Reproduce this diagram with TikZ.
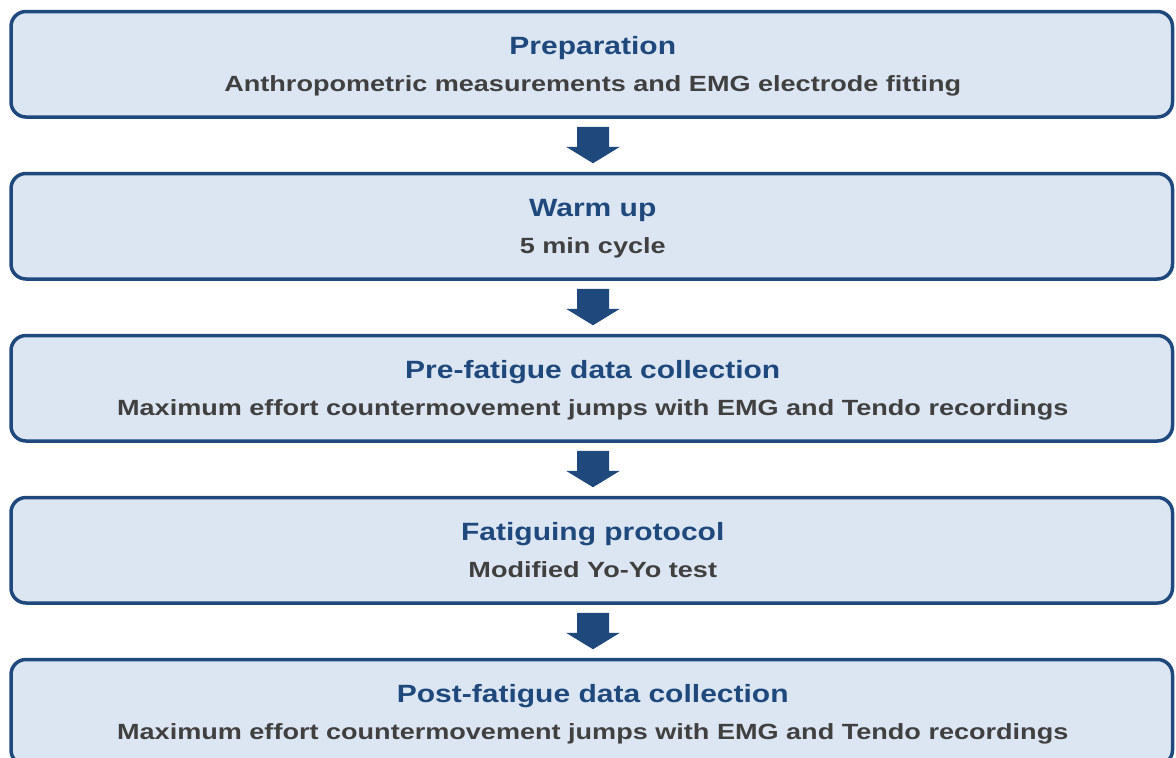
\documentclass[tikz,border=0pt]{standalone}
\usepackage{fontspec}
\setmainfont{Liberation Sans}
\usetikzlibrary{calc}
\definecolor{boxfill}{HTML}{DCE6F2}
\definecolor{boxline}{HTML}{1F497D}
\definecolor{titleblue}{HTML}{1F497D}
\definecolor{subgray}{HTML}{404040}
\definecolor{arrowblue}{HTML}{1F497D}
\newcommand{\stagetitle}[1]{\scalebox{1.2}[1]{#1}}
\newcommand{\stagesub}[1]{\scalebox{1.23}[1]{#1}}
\tikzset{
  stagebox/.style={draw=boxline, fill=boxfill, line width=3.5pt, rounded corners=15pt,
    minimum width=1161.5pt, minimum height=105.5pt, inner sep=0pt},
  titletext/.style={anchor=base, text=titleblue, font=\fontsize{25}{29}\selectfont\bfseries, inner sep=0pt},
  subtext/.style={anchor=base, text=subgray, font=\fontsize{22}{26}\selectfont\bfseries, inner sep=0pt},
  blockarrow/.style={fill=arrowblue}
}
\begin{document}
\begin{tikzpicture}[x=1pt,y=-1pt]
\useasboundingbox (0,0) rectangle (1176,758);
\clip (0,0) rectangle (1176,758);
\node[stagebox] (b1) at (591.75,64.25) {};
\node[stagebox] (b2) at (591.75,226.25) {};
\node[stagebox] (b3) at (591.75,388.25) {};
\node[stagebox] (b4) at (591.75,550.25) {};
\node[stagebox] (b5) at (591.75,712.25) {};

\node[titletext] (t1) at ($(b1.north)+(1,44.5)$) {\stagetitle{Preparation}};
\node[subtext] (s1) at ($(b1.north)+(1,82)$) {\stagesub{Anthropometric measurements and EMG electrode fitting}};
\node[titletext] (t2) at ($(b2.north)+(1,44.5)$) {\stagetitle{Warm up}};
\node[subtext] (s2) at ($(b2.north)+(1,82)$) {\stagesub{5 min cycle}};
\node[titletext] (t3) at ($(b3.north)+(1,44.5)$) {\stagetitle{Pre-fatigue data collection}};
\node[subtext] (s3) at ($(b3.north)+(1,82)$) {\stagesub{Maximum effort countermovement jumps with EMG and Tendo recordings}};
\node[titletext] (t4) at ($(b4.north)+(1,44.5)$) {\stagetitle{Fatiguing protocol}};
\node[subtext] (s4) at ($(b4.north)+(1,82)$) {\stagesub{Modified Yo-Yo test}};
\node[titletext] (t5) at ($(b5.north)+(1,44.5)$) {\stagetitle{Post-fatigue data collection}};
\node[subtext] (s5) at ($(b5.north)+(1,82)$) {\stagesub{Maximum effort countermovement jumps with EMG and Tendo recordings}};

\foreach \a/\b in {b1/b2,b2/b3,b3/b4,b4/b5} {
  \fill[blockarrow] ($(\a.south)+(-14.75,8)$) -- ($(\a.south)+(17.25,8)$)
    -- ($(\a.south)+(17.25,28)$) -- ($(\a.south)+(28.25,28)$)
    -- ($(\b.north)+(1.25,-8.5)$)
    -- ($(\a.south)+(-25.75,28)$) -- ($(\a.south)+(-14.75,28)$) -- cycle;
}
\end{tikzpicture}
\end{document}
